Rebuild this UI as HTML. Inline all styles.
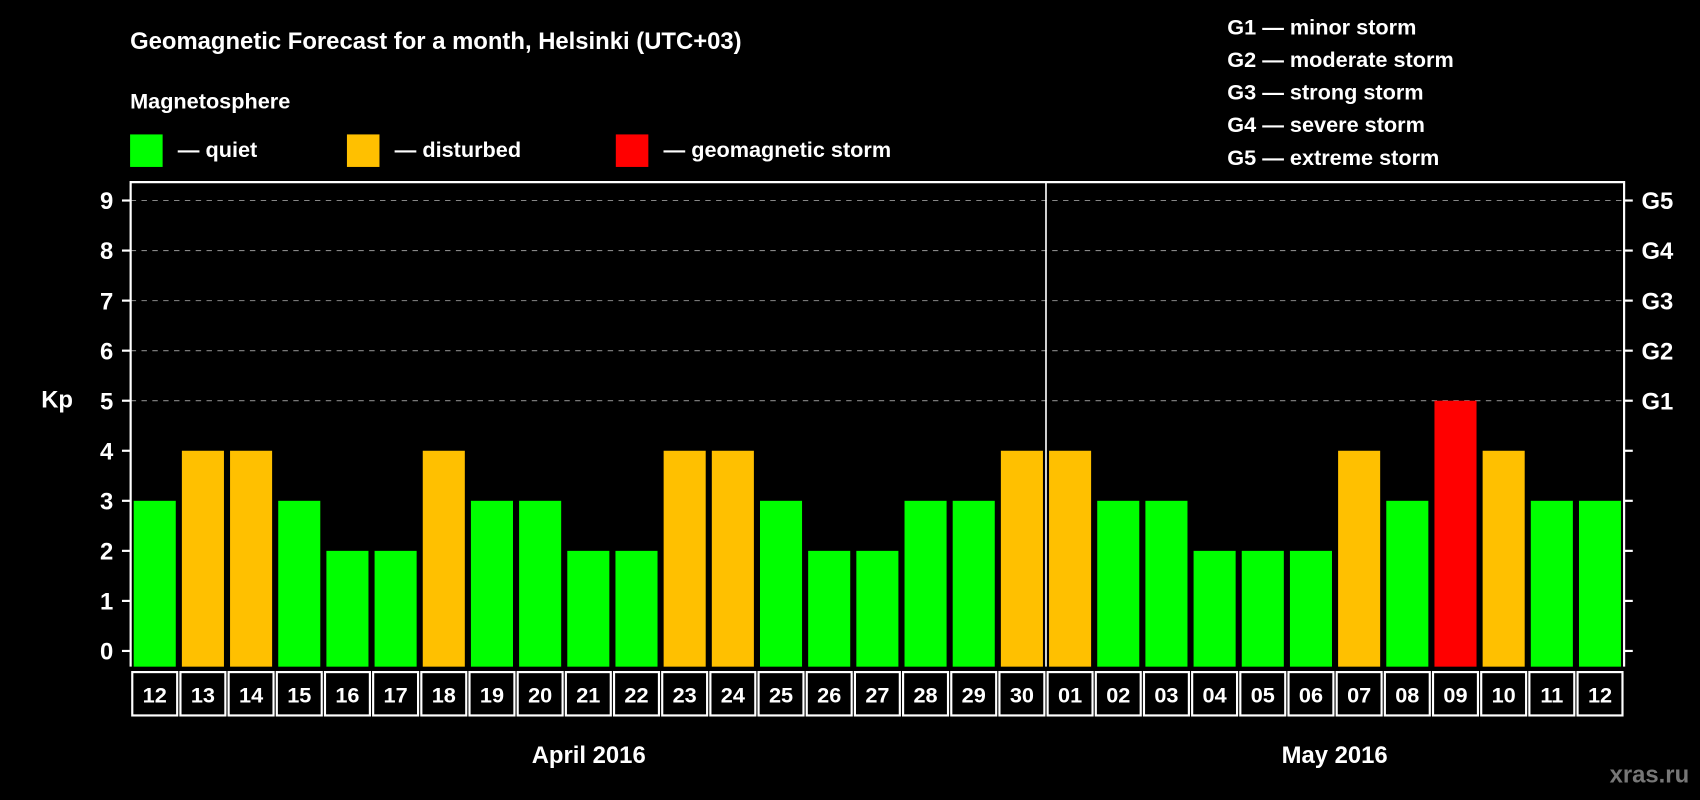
<!DOCTYPE html>
<html><head><meta charset="utf-8"><style>
html,body{margin:0;padding:0;background:#000;}
svg{display:block;font-family:"Liberation Sans",sans-serif;font-weight:bold;}
</style></head><body>
<svg width="1700" height="800" viewBox="0 0 1568 738" preserveAspectRatio="none">
<rect x="0" y="0" width="1568" height="738" fill="#000"/>
<text x="120" y="45" fill="#fff" font-size="22">Geomagnetic Forecast for a month, Helsinki (UTC+03)</text>
<text x="120" y="100" fill="#fff" font-size="20">Magnetosphere</text>
<g>
<rect x="120" y="124" width="30" height="30" fill="#00ff00"/>
<text x="164" y="145" fill="#fff" font-size="20">— quiet</text>
<rect x="320" y="124" width="30" height="30" fill="#ffc000"/>
<text x="364" y="145" fill="#fff" font-size="20">— disturbed</text>
<rect x="568" y="124" width="30" height="30" fill="#ff0000"/>
<text x="612" y="145" fill="#fff" font-size="20">— geomagnetic storm</text>
</g>
<g fill="#fff" font-size="20">
<text x="1132" y="32">G1 — minor storm</text>
<text x="1132" y="62">G2 — moderate storm</text>
<text x="1132" y="92">G3 — strong storm</text>
<text x="1132" y="122">G4 — severe storm</text>
<text x="1132" y="152">G5 — extreme storm</text>
</g>
<text x="38" y="376" fill="#fff" font-size="22">Kp</text>
<g id="plot"></g>
<text x="543" y="704" fill="#fff" font-size="22" text-anchor="middle">April 2016</text>
<text x="1231" y="704" fill="#fff" font-size="22" text-anchor="middle">May 2016</text>
<text x="1558" y="722" fill="#777" font-size="22" text-anchor="end">xras.ru</text>
</svg>
<script>
const days = ["12","13","14","15","16","17","18","19","20","21","22","23","24","25","26","27","28","29","30","01","02","03","04","05","06","07","08","09","10","11","12"];
const kp = [3,4,4,3,2,2,4,3,3,2,2,4,4,3,2,2,3,3,4,4,3,3,2,2,2,4,3,5,4,3,3];
const yTicks = [0,1,2,3,4,5,6,7,8,9];
const gLabels = ["","","","","","G1","G2","G3","G4","G5"];
const NS="http://www.w3.org/2000/svg";
const g=document.getElementById('plot');
const L=120.5,R=1498,T=168,B=615,PITCH=(R-L)/days.length,BW=38.8;
const y=v=>600.5-v*46.17;
const x=i=>L+i*PITCH;
function mk(t,a){const e=document.createElementNS(NS,t);for(const k in a)e.setAttribute(k,a[k]);g.appendChild(e);return e;}
yTicks.forEach((v,i)=>{
  if(v>=5){const d=mk('line',{x1:L,x2:R,y1:y(v),y2:y(v),stroke:'#888','stroke-dasharray':'5,5','stroke-width':1});
  
  }
  mk('line',{x1:L-8,x2:L,y1:y(v),y2:y(v),stroke:'#fff','stroke-width':2});
  mk('line',{x1:R,x2:R+8,y1:y(v),y2:y(v),stroke:'#fff','stroke-width':2});
  const t=mk('text',{x:L-16,y:y(v)+8,fill:'#fff','font-size':22,'text-anchor':'end'});t.textContent=v;
  
  
  if(gLabels[i]){const r=mk('text',{x:R+16,y:y(v)+8,fill:'#fff','font-size':22});r.textContent=gLabels[i];
  
  }
});
kp.forEach((v,i)=>{
  const c=v>=5?'#ff0000':(v>=4?'#ffc000':'#00ff00');
  const b=mk('rect',{x:x(i)+(PITCH-BW)/2,y:y(v),width:BW,height:B-y(v),fill:c});
  
  
  const bx=mk('rect',{x:x(i)+1.5,y:620,width:PITCH-3,height:40,fill:'none',stroke:'#fff','stroke-width':2});
  const t=mk('text',{x:x(i)+PITCH/2,y:648,fill:'#fff','font-size':20,'text-anchor':'middle'});t.textContent=days[i];
  
  
});
const fr=mk('path',{d:`M${L},${B} V${T} H${R} V${B}`,fill:'none',stroke:'#fff','stroke-width':2});


const sep=mk('line',{x1:x(19),x2:x(19),y1:T,y2:B,stroke:'#fff','stroke-width':1.5});


</script>
</body></html>
